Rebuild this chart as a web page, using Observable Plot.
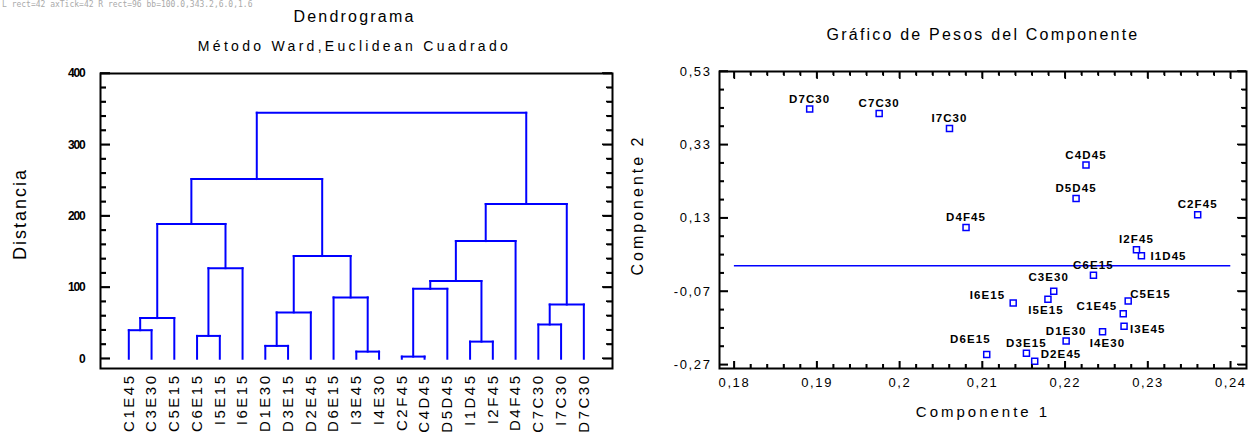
<!DOCTYPE html>
<html><head><meta charset="utf-8">
<script src="https://cdn.jsdelivr.net/npm/d3@7"></script>
<script src="https://cdn.jsdelivr.net/npm/@observablehq/plot@0.6"></script>
<style>
html,body{margin:0;padding:0;background:#fff;}
#wrap{position:relative;width:1259px;height:432px;overflow:hidden;background:#fff;}
#left,#leftTicks{position:absolute;left:0;top:0;}
#right,#rightTicks{position:absolute;left:630px;top:0;}
#leftTicks,#rightTicks{z-index:2;pointer-events:none;}
#dbg{position:absolute;left:2px;top:0;font:8px monospace;color:#aaa;width:260px;z-index:3;white-space:pre-wrap;}
</style></head><body>
<div id="wrap"><div id="left"></div><div id="right"></div><div id="leftTicks"></div><div id="rightTicks"></div><div id="dbg"></div></div>
<script>
// ---------- Dendrogram data ----------
const leaves = ["C1E45","C3E30","C5E15","C6E15","I5E15","I6E15","D1E30","D3E15","D2E45","D6E15","I3E45","I4E30","C2F45","C4D45","D5D45","I1D45","I2F45","D4F45","C7C30","I7C30","D7C30"];
// merge k creates node id leaves.length + k
const mergeLeft   = [0, 21, 3, 23, 22, 6, 26, 10, 9, 27, 25, 12, 32, 15, 33, 35, 18, 37, 36, 31];
const mergeRight  = [1, 2, 4, 5, 24, 7, 8, 11, 28, 29, 30, 13, 14, 16, 34, 17, 19, 20, 38, 39];
const mergeHeight = [40, 57, 32, 127, 189, 18, 65, 10, 86, 144, 252, 3, 98, 24, 109, 165, 48, 76, 217, 345];
const distTicks = [0, 100, 200, 300, 400];

// ---------- Component weights data ----------
const pcNames = ["D7C30","C7C30","I7C30","C4D45","D5D45","C2F45","D4F45","I2F45","I1D45","C6E15","C3E30","I5E15","I6E15","C5E15","C1E45","I3E45","I4E30","D1E30","D6E15","D3E15","D2E45"];
const comp1 = [0.1891,0.1975,0.2060,0.2225,0.2213,0.2360,0.2080,0.2286,0.2292,0.2234,0.2186,0.2179,0.2137,0.2276,0.2270,0.2271,0.2245,0.2201,0.2105,0.2153,0.2163];
const comp2 = [0.428,0.4155,0.3744,0.2747,0.1834,0.1396,0.1048,0.0437,0.0273,-0.0256,-0.0695,-0.0914,-0.1015,-0.096,-0.1308,-0.1645,-0.180,-0.2048,-0.242,-0.2385,-0.260];
const c1Ticks = [0.18, 0.19, 0.2, 0.21, 0.22, 0.23, 0.24];
const c2Ticks = [-0.27, -0.07, 0.13, 0.33, 0.53];

// label placement (anchor, dx, dy) in pixels relative to the marker
const placement = {
  I1D45: ["start", 9, 0], C3E30: ["middle", -5, -14], I5E15: ["middle", -2, 11],
  I6E15: ["end", -8, -8], C5E15: ["start", 2, -7], C1E45: ["end", -6, -7],
  I3E45: ["start", 6, 3], I4E30: ["middle", 5, 11], D6E15: ["end", 4, -15],
  D2E45: ["start", 6, -7]
};

const BLUE = "#0000ff";
const FONT = "Liberation Sans, Arial, Helvetica, sans-serif";

function spacing(svg, test, ls) {
  d3.select(svg).selectAll("text")
    .filter(function() { return test(this.textContent); })
    .style("letter-spacing", ls);
}

// inward tick rectangles (thin filled bars) along the frame edges
function yTickRects(vals, xDom, len, half) {
  return vals.flatMap(v => [
    {x1: xDom[0], x2: xDom[0] + len, y1: v - half, y2: v + half},
    {x1: xDom[1] - len, x2: xDom[1], y1: v - half, y2: v + half}
  ]);
}
function xTickRects(vals, yDom, len, half) {
  return vals.flatMap(v => [
    {y1: yDom[0], y2: yDom[0] + len, x1: v - half, x2: v + half},
    {y1: yDom[1] - len, y2: yDom[1], x1: v - half, x2: v + half}
  ]);
}
const rectMark = data => Plot.rect(data, {x1: "x1", x2: "x2", y1: "y1", y2: "y2", fill: "black", inset: 0});

// ---------- build dendrogram segments ----------
const nodeX = leaves.map((_, i) => i);
const nodeH = leaves.map(() => 0);
const segs = [];
mergeLeft.forEach((l, k) => {
  const r = mergeRight[k], h = mergeHeight[k];
  const xl = nodeX[l], xr = nodeX[r];
  segs.push({x1: xl, y1: nodeH[l], x2: xl, y2: h});
  segs.push({x1: xr, y1: nodeH[r], x2: xr, y2: h});
  segs.push({x1: xl, y1: h, x2: xr, y2: h});
  nodeX.push((xl + xr) / 2);
  nodeH.push(h);
});

const LW = 630, LmL = 100, LmR = 18, LmT = 73, LmB = 64;
const LfW = LW - LmL - LmR, LfH = 432 - LmT - LmB;
const LxDom = [-1.244, 21.26], LyDom = [-13.7, 400];
const Lux = (LxDom[1] - LxDom[0]) / LfW, Luy = (LyDom[1] - LyDom[0]) / LfH;
const distMinor = d3.range(0, 401, 20).filter(v => !distTicks.includes(v));
const leftTickRects = [...yTickRects(distMinor, LxDom, 6 * Lux, 0.8 * Luy), ...yTickRects(distTicks, LxDom, 10 * Lux, 0.8 * Luy)];
const Ldims = {width: LW, height: 432, marginLeft: LmL, marginRight: LmR, marginTop: LmT, marginBottom: LmB};

const left = Plot.plot({
  ...Ldims,
  x: {domain: LxDom, axis: null},
  y: {domain: LyDom},
  style: {fontFamily: FONT, background: "white", color: "black", overflow: "visible"},
  marks: [
    Plot.link(segs, {x1: "x1", y1: "y1", x2: "x2", y2: "y2", stroke: BLUE, strokeWidth: 2, strokeLinecap: "square"}),
    Plot.frame({stroke: "black", strokeWidth: 2}),
    // inward ticks via the axis mark (shifted inside the frame)
    Plot.axisY(distMinor, {anchor: "left", tickSize: 6, dx: 6, fill: "none", stroke: "black", strokeWidth: 1.6, label: null}),
    Plot.axisY(distTicks, {anchor: "left", tickSize: 10, dx: 10, fill: "none", stroke: "black", strokeWidth: 1.6, label: null}),
    Plot.axisY(distMinor, {anchor: "right", tickSize: 6, dx: -6, fill: "none", stroke: "black", strokeWidth: 1.6, label: null}),
    Plot.axisY(distTicks, {anchor: "right", tickSize: 10, dx: -10, fill: "none", stroke: "black", strokeWidth: 1.6, label: null}),
    Plot.axisY(distTicks, {anchor: "left", tickSize: 0, tickPadding: 16, fontSize: 12, fontWeight: "bold", label: null}),
    Plot.text(leaves, {x: (d, i) => i, frameAnchor: "bottom", rotate: -90, textAnchor: "end", lineAnchor: "middle", dy: 5, fontSize: 15}),
    Plot.text(["Dendrograma"], {frameAnchor: "top", textAnchor: "middle", lineAnchor: "middle", dx: -2, dy: -57, fontSize: 16}),
    Plot.text(["Método Ward,Euclidean Cuadrado"], {frameAnchor: "top", textAnchor: "middle", lineAnchor: "middle", dx: -2, dy: -27, fontSize: 14}),
    Plot.text(["Distancia"], {frameAnchor: "left", textAnchor: "middle", lineAnchor: "middle", dx: -80, dy: -7, rotate: -90, fontSize: 18})
  ]
});
document.getElementById("left").appendChild(left);
spacing(left, t => leaves.includes(t), "2.5px");
spacing(left, t => t === "Dendrograma", "2.2px");
spacing(left, t => t.startsWith("Método"), "3.3px");
spacing(left, t => t === "Distancia", "2px");
spacing(left, t => /^\d+$/.test(t), "-1.2px");

// tick overlay (thin rectangles) for the dendrogram frame, same scales
const leftTickPlot = Plot.plot({
  ...Ldims,
  x: {domain: LxDom, axis: null},
  y: {domain: LyDom, axis: null},
  style: {background: "transparent", overflow: "visible"},
  marks: [rectMark(leftTickRects)]
});
document.getElementById("leftTicks").appendChild(leftTickPlot);

// ---------- right: scatter ----------
const RW = 629, RmL = 89, RmR = 13, RmT = 71, RmB = 64;
const RfW = RW - RmL - RmR, RfH = 432 - RmT - RmB;
const RxDom = [0.1782, 0.2419], RyDom = [-0.28, 0.53];
const Rux = (RxDom[1] - RxDom[0]) / RfW, Ruy = (RyDom[1] - RyDom[0]) / RfH;
const pts = pcNames.map((n, i) => ({name: n, c1: comp1[i], c2: comp2[i]}));
const c2Minor = d3.range(0, 17).map(k => +(0.53 - 0.05 * k).toFixed(2)).filter(v => !c2Ticks.includes(v));
const c1Minor = d3.range(0, 31).map(k => +(0.18 + 0.002 * k).toFixed(3)).filter(v => !c1Ticks.includes(v));
const fmt = d => String(d).replace(".", ",");
const rightTickRects = [
  ...yTickRects(c2Minor, RxDom, 5 * Rux, 0.75 * Ruy), ...yTickRects(c2Ticks, RxDom, 9 * Rux, 0.75 * Ruy),
  ...xTickRects(c1Minor, RyDom, 4 * Ruy, 0.75 * Rux), ...xTickRects(c1Ticks, RyDom, 7 * Ruy, 0.75 * Rux)
];
const Rdims = {width: RW, height: 432, marginLeft: RmL, marginRight: RmR, marginTop: RmT, marginBottom: RmB};
const tk = {fill: "none", stroke: "black", strokeWidth: 1.5, label: null};

const labelMarks = pts.map(p => {
  const [anchor, dx, dy] = placement[p.name] || ["middle", 0, -10];
  return Plot.text([p], {x: "c1", y: "c2", text: "name", textAnchor: anchor, lineAnchor: "middle", dx, dy,
    fontSize: 11.5, fontWeight: "bold"});
});

const right = Plot.plot({
  ...Rdims,
  x: {domain: RxDom},
  y: {domain: RyDom},
  style: {fontFamily: FONT, background: "white", color: "black", overflow: "visible"},
  marks: [
    Plot.ruleY([0], {x1: 0.18, x2: 0.24, stroke: BLUE, strokeWidth: 1.5}),
    Plot.frame({stroke: "black", strokeWidth: 2}),
    Plot.axisY(c2Minor, {anchor: "left", tickSize: 5, dx: 5, ...tk}),
    Plot.axisY(c2Ticks, {anchor: "left", tickSize: 9, dx: 9, ...tk}),
    Plot.axisY(c2Minor, {anchor: "right", tickSize: 5, dx: -5, ...tk}),
    Plot.axisY(c2Ticks, {anchor: "right", tickSize: 9, dx: -9, ...tk}),
    Plot.axisX(c1Minor, {anchor: "bottom", tickSize: 4, dy: -4, ...tk}),
    Plot.axisX(c1Ticks, {anchor: "bottom", tickSize: 7, dy: -7, ...tk}),
    Plot.axisX(c1Minor, {anchor: "top", tickSize: 4, dy: 4, ...tk}),
    Plot.axisX(c1Ticks, {anchor: "top", tickSize: 7, dy: 7, ...tk}),
    Plot.dot(pts, {x: "c1", y: "c2", symbol: "square", r: 3.4, stroke: BLUE, strokeWidth: 1.5, fill: "none"}),
    ...labelMarks,
    Plot.axisY(c2Ticks, {anchor: "left", tickSize: 0, tickPadding: 8, tickFormat: fmt, fontSize: 13, label: null}),
    Plot.axisX(c1Ticks, {anchor: "bottom", tickSize: 0, tickPadding: 9, tickFormat: fmt, fontSize: 13, label: null}),
    Plot.text(["Gráfico de Pesos del Componente"], {frameAnchor: "top", textAnchor: "middle", lineAnchor: "middle", dy: -37, fontSize: 16}),
    Plot.text(["Componente 2"], {frameAnchor: "left", textAnchor: "middle", lineAnchor: "middle", dx: -82, dy: -15, rotate: -90, fontSize: 16}),
    Plot.text(["Componente 1"], {frameAnchor: "bottom", textAnchor: "middle", lineAnchor: "middle", dy: 44, fontSize: 15})
  ]
});
document.getElementById("right").appendChild(right);
spacing(right, t => pcNames.includes(t), "1.1px");
spacing(right, t => /^-?\d,\d+$/.test(t), "1.6px");
spacing(right, t => t.startsWith("Gráfico"), "2.2px");
spacing(right, t => t.startsWith("Componente"), "3px");

const rightTickPlot = Plot.plot({
  ...Rdims,
  x: {domain: RxDom, axis: null},
  y: {domain: RyDom, axis: null},
  style: {background: "transparent", overflow: "visible"},
  marks: [rectMark(rightTickRects)]
});
document.getElementById("rightTicks").appendChild(rightTickPlot);

// small diagnostic line (tick element counts)
const cnt = (svg, sel) => svg.querySelectorAll(sel).length;
const r0 = leftTickPlot.querySelector("rect");
const bb = r0 ? r0.getBoundingClientRect() : null;
document.getElementById("dbg").textContent =
  "L rect=" + cnt(leftTickPlot, "rect") + " axTick=" + cnt(left, 'g[aria-label="y-axis tick"] path') +
  " R rect=" + cnt(rightTickPlot, "rect") + (bb ? " bb=" + [bb.x, bb.y, bb.width, bb.height].map(v => v.toFixed(1)).join(",") : "");
</script>
</body></html>
